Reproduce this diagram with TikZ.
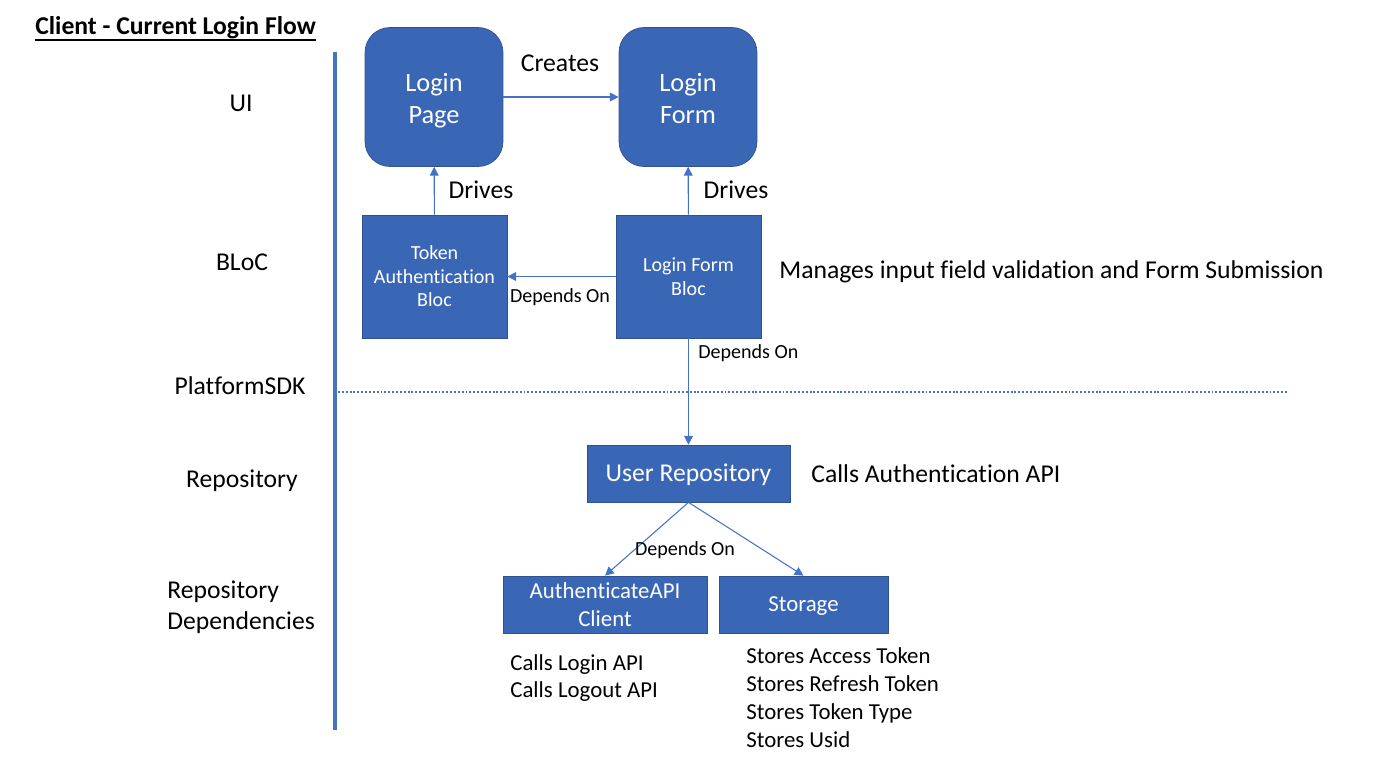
\documentclass[tikz,border=0pt]{standalone}
\usepackage{fontspec}
\setmainfont{Carlito}[Ligatures=CommonOff]
\usetikzlibrary{arrows.meta}
\definecolor{boxblue}{HTML}{3A67B5}
\definecolor{boxedge}{HTML}{2F528F}
\definecolor{linkblue}{HTML}{4472C4}
\newcommand{\bigtxt}{\fontsize{14.6}{17.6}\selectfont}
\newcommand{\midtxt}{\fontsize{13}{15.6}\selectfont}
\newcommand{\smalltxt}{\fontsize{11.4}{13.4}\selectfont}
\newcommand{\logintxt}{\fontsize{15}{18.2}\selectfont}
\newcommand{\capline}[1]{\rule{0pt}{0.64em}\smash{#1}}

\begin{document}
\begin{tikzpicture}[x=0.02cm,y=-0.02cm,
    box/.style={draw=boxedge,fill=boxblue,text=white,align=center,inner sep=0pt},
    link/.style={draw=linkblue,line width=0.6pt,-{Triangle[length=5pt,width=5pt]}}]
\useasboundingbox (0,0) rectangle (1376,765);
\node[font=\bfseries\bigtxt,anchor=base west,inner sep=0pt] (title) at (35,34) {Client - Current Login Flow};
\draw[line width=1.2pt] ([yshift=-3.2pt]title.base west) -- ([yshift=-3.2pt]title.base east);
\draw[linkblue,line width=2.4pt] (335,52) -- (335,730);
\draw[linkblue,line width=0.9pt,dash pattern=on 1.1pt off 1.1pt] (338,392) -- (1288,392);
\node[font=\bigtxt] (ui) at (241,103) {UI};
\node[font=\bigtxt] (bloc) at (242,262) {BLoC};
\node[font=\bigtxt] (sdk) at (240,386) {PlatformSDK};
\node[font=\bigtxt] (repo) at (242,481) {Repository};
\node[font=\bigtxt,anchor=west,align=left,inner sep=0pt] (repodeps) at (167,607) {Repository\\Dependencies};
\node[box,rounded corners=0.5cm,minimum width=2.76cm,minimum height=2.78cm,font=\logintxt] (loginpage) at (434,97) {\rule{0pt}{17.3pt}Login\\Page\rule[-5.5pt]{0pt}{1pt}};
\node[box,rounded corners=0.5cm,minimum width=2.76cm,minimum height=2.78cm,font=\logintxt] (loginform) at (688,97) {\rule{0pt}{17.3pt}Login\\Form\rule[-5.5pt]{0pt}{1pt}};
\node[box,minimum width=2.9cm,minimum height=2.46cm,font=\smalltxt] (tokenbloc) at (434.5,276.5) {Token\\Authentication\\Bloc};
\node[box,minimum width=2.9cm,minimum height=2.46cm,font=\smalltxt] (formbloc) at (688.5,276.5) {Login Form\\Bloc};
\node[box,minimum width=4.06cm,minimum height=1.14cm,font=\bigtxt] (userrepo) at (688.5,473.5) {\capline{User Repository}};
\node[box,minimum width=4.08cm,minimum height=1.14cm,font=\midtxt] (authapi) at (605,604.5) {AuthenticateAPI\\Client};
\node[box,minimum width=3.38cm,minimum height=1.14cm,font=\midtxt] (storage) at (803.5,604.5) {\capline{Storage}};
\draw[link] (loginpage) -- (loginform);
\draw[link] (tokenbloc) -- (loginpage);
\draw[link] (formbloc) -- (loginform);
\draw[link] (formbloc) -- (tokenbloc);
\draw[link] (formbloc) -- (userrepo);
\draw[link] (userrepo.south) -- (authapi.north);
\draw[link] (userrepo.south) -- (storage.north);
\node[font=\bigtxt] (creates) at (560,63) {Creates};
\node[font=\bigtxt] (drives1) at (481,190) {Drives};
\node[font=\bigtxt] (drives2) at (736,190) {Drives};
\node[font=\smalltxt] (dep1) at (560,297) {Depends On};
\node[font=\smalltxt,anchor=west,inner sep=0pt] (dep2) at (698,353) {Depends On};
\node[font=\smalltxt] (dep3) at (685,550) {Depends On};
\node[font=\bigtxt,anchor=west,inner sep=0pt] (manages) at (779,272) {Manages input field validation and Form Submission};
\node[font=\bigtxt,anchor=west,inner sep=0pt] (callsauth) at (811,474) {Calls Authentication API};
\node[font=\midtxt,anchor=north west,align=left,inner sep=0pt] (apinotes) at (510,654) {Calls Login API\\Calls Logout API};
\node[font=\midtxt,anchor=north west,align=left,inner sep=0pt,text depth=0pt] (storenotes) at (746,647) {Stores Access Token\\[0.4pt]Stores Refresh Token\\[0.4pt]Stores Token Type\\[0.4pt]Stores Usid};
\end{tikzpicture}
\end{document}
